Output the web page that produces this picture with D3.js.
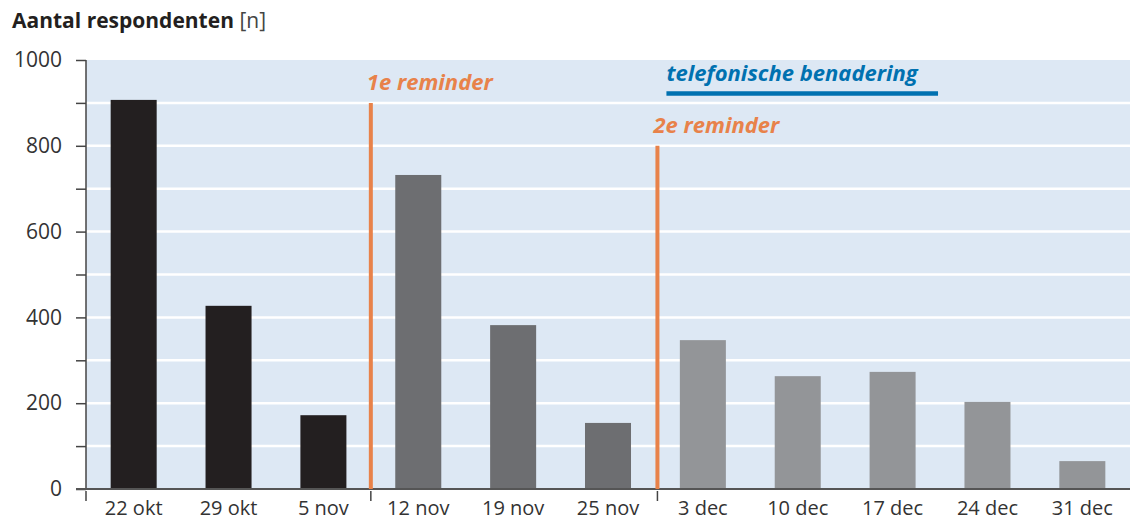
<!DOCTYPE html>
<html>
<head>
<meta charset="utf-8">
<script src="https://cdn.jsdelivr.net/npm/d3@7.9.0/dist/d3.min.js"></script>
<style>
  body { margin: 0; background: #fff; }
  svg { display: block; font-family: "Open Sans", Lato, sans-serif; }
</style>
</head>
<body>
<svg width="1130" height="522"></svg>
<script>
const weeks = ['22 okt', '29 okt', '5 nov', '12 nov', '19 nov', '25 nov', '3 dec', '10 dec', '17 dec', '24 dec', '31 dec'];
const respondents = [907, 427, 172, 732, 382, 154, 347, 263, 273, 203, 65];
// phase of each week: 0 = before reminder, 1 = after 1e, 2 = after 2e
const phase = [0, 0, 0, 1, 1, 1, 2, 2, 2, 2, 2];
const yTicks = [0, 200, 400, 600, 800, 1000];

// reminders: line placed before week, top value
const reminders = [
  { label: '1e reminder', before: '12 nov', top: 900 },
  { label: '2e reminder', before: '3 dec', top: 800 }
];
const phoneLabel = 'telefonische benadering';
const phoneFrom = '3 dec', phoneTo = '17 dec', phoneValue = 922;

const svg = d3.select('svg');
const margin = { left: 86, right: 0, top: 60, bottom: 33 };
const W = 1130, H = 522;

const x = d3.scaleBand().domain(weeks).range([margin.left, W - margin.right]).paddingInner(0.515).paddingOuter(0.26);
const y = d3.scaleLinear().domain([0, 1000]).range([H - margin.bottom, margin.top]);
const colors = ['#231f20', '#6d6e71', '#939598'];

// boundary between a week and the previous one
function before(w) {
  const i = weeks.indexOf(w);
  return (x(weeks[i - 1]) + x.bandwidth() + x(w)) / 2;
}
function after(w) {
  const i = weeks.indexOf(w);
  return (x(w) + x.bandwidth() + x(weeks[i + 1])) / 2;
}

// background
svg.append('rect')
  .attr('x', margin.left).attr('y', y(1000))
  .attr('width', W - margin.left).attr('height', y(0) - y(1000))
  .attr('fill', '#dde8f4');

// white gridlines
svg.append('g')
  .selectAll('line')
  .data(d3.range(100, 1000, 100))
  .join('line')
  .attr('x1', margin.left).attr('x2', W)
  .attr('y1', d => y(d)).attr('y2', d => y(d))
  .attr('stroke', '#fff').attr('stroke-width', 2.5);

// bars
svg.append('g')
  .selectAll('rect')
  .data(weeks)
  .join('rect')
  .attr('x', d => x(d))
  .attr('width', x.bandwidth())
  .attr('y', (d, i) => y(respondents[i]))
  .attr('height', (d, i) => y(0) - y(respondents[i]))
  .attr('fill', (d, i) => colors[phase[i]]);

// y axis
const yAxis = svg.append('g')
  .attr('transform', `translate(${margin.left},0)`)
  .call(d3.axisLeft(y).tickValues(d3.range(0, 1001, 100)).tickSize(10).tickPadding(14)
    .tickFormat(d => yTicks.includes(d) ? d : ''));
yAxis.select('.domain').attr('stroke', '#444').attr('stroke-width', 1.5).attr('d', `M0,${y(1000)}V${y(0)}`);
yAxis.selectAll('.tick line').attr('stroke', '#444').attr('stroke-width', 1.5);
yAxis.selectAll('.tick text').attr('font-size', 21).attr('fill', '#333').attr('font-family', '"Open Sans", sans-serif');

// x axis line
svg.append('line')
  .attr('x1', margin.left - 10).attr('x2', W)
  .attr('y1', y(0)).attr('y2', y(0))
  .attr('stroke', '#555').attr('stroke-width', 2);

// x tick marks at group boundaries
const sepX = [margin.left, before('12 nov'), before('3 dec') + 2];
svg.append('g')
  .selectAll('line')
  .data(sepX)
  .join('line')
  .attr('x1', d => d).attr('x2', d => d)
  .attr('y1', y(0) + 2).attr('y2', y(0) + 12)
  .attr('stroke', '#444').attr('stroke-width', 1.5);

// x labels
svg.append('g')
  .selectAll('text')
  .data(weeks)
  .join('text')
  .attr('x', d => x(d) + x.bandwidth() / 2)
  .attr('y', H - 7)
  .attr('text-anchor', 'middle')
  .attr('font-size', 20)
  .attr('fill', '#333')
  .text(d => d);

// reminder lines
const rem = svg.append('g');
reminders.forEach((r, k) => {
  const xp = before(r.before) + (k === 1 ? 2 : 0);
  rem.append('line')
    .attr('x1', xp).attr('x2', xp)
    .attr('y1', y(r.top)).attr('y2', y(0))
    .attr('stroke', '#e8824a').attr('stroke-width', 4);
  rem.append('text')
    .attr('x', xp - 4).attr('y', y(r.top) - 13)
    .attr('font-size', 22).attr('font-style', 'italic').attr('font-weight', 'bold')
    .attr('fill', '#e8824a')
    .text(r.label);
});

// telefonische benadering
const px1 = before(phoneFrom) + 11, px2 = after(phoneTo) - 2;
svg.append('line')
  .attr('x1', px1).attr('x2', px2)
  .attr('y1', y(phoneValue)).attr('y2', y(phoneValue))
  .attr('stroke', '#0071b0').attr('stroke-width', 4.5);
svg.append('text')
  .attr('x', px1).attr('y', y(phoneValue) - 12)
  .attr('font-size', 22).attr('font-style', 'italic').attr('font-weight', 'bold')
  .attr('fill', '#0071b0')
  .text(phoneLabel);

// title
const title = svg.append('text')
  .attr('x', 12).attr('y', 28)
  .attr('font-size', 21).attr('fill', '#231f20');
title.append('tspan').attr('font-weight', 'bold').text('Aantal respondenten ');
title.append('tspan').attr('fill', '#444').text('[n]');
</script>
</body>
</html>
